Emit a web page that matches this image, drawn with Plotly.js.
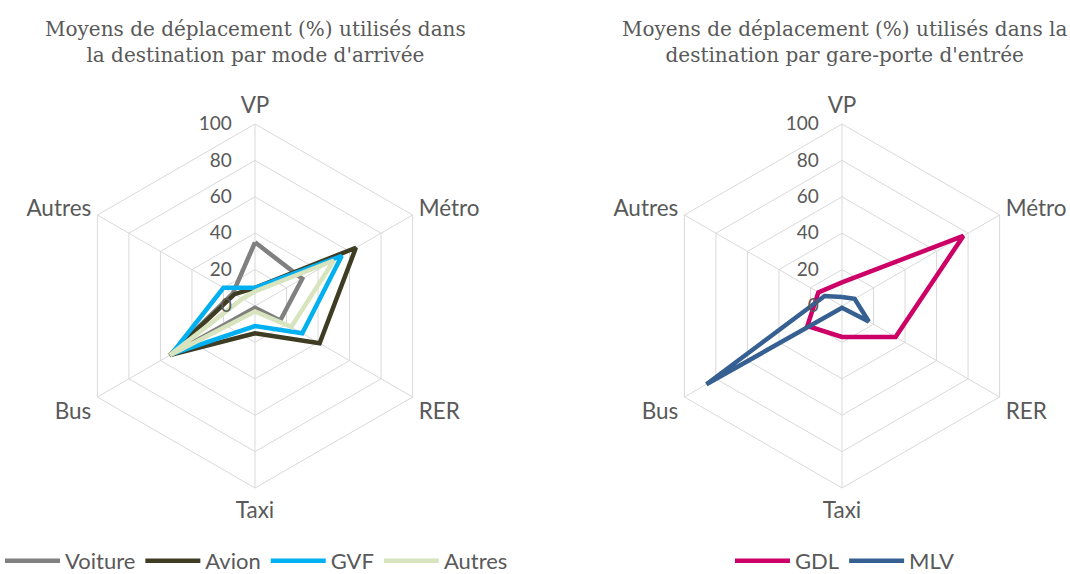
<!DOCTYPE html>
<html><head><meta charset="utf-8">
<script src="https://cdn.plot.ly/plotly-3.0.1.min.js"></script>
<style>html,body{margin:0;padding:0;background:#fff;overflow:hidden}#chart{width:1070px;height:582px}</style>
</head><body><div id="chart"></div>
<script>
const categories = ["VP", "Métro", "RER", "Taxi", "Bus", "Autres"];
const radialTicks = [0, 20, 40, 60, 80, 100];

// Left chart: mode d'arrivée
const voiture = [35, 30, 16, 1, 54, 14];
const avion   = [10, 64, 41, 15, 54, 13];
const gvf     = [10, 55, 30, 11, 53, 20];
const autres  = [8, 50, 23, 3, 54, 8];

// Right chart: gare-porte d'entrée
const gdl = [13, 77, 34, 17, 22, 15];
const mlv = [5, 8, 17, 1, 86, 11];

const leftTitle = "Moyens de déplacement (%) utilisés dans<br>la destination par mode d'arrivée";
const rightTitle = "Moyens de déplacement (%) utilisés dans la<br>destination par gare-porte d'entrée";

function closed(a){ return a.concat([a[0]]); }
const cats = closed(categories);

function tr(name, vals, color, polar, legend){
  return {type:'scatterpolar', mode:'lines', name:name, r:closed(vals), theta:cats,
    line:{color:color, width:4.5, shape:'linear'}, subplot:polar, legend:legend,
    cliponaxis:false, hoverinfo:'skip'};
}

const data = [
  tr("Voiture", voiture, "#808080", "polar", "legend"),
  tr("Avion", avion, "#3f3c24", "polar", "legend"),
  tr("GVF", gvf, "#00b0f0", "polar", "legend"),
  tr("Autres", autres, "#d7e4bd", "polar", "legend"),
  tr("GDL", gdl, "#cc0066", "polar2", "legend2"),
  tr("MLV", mlv, "#376092", "polar2", "legend2")
];

const H = 582;
const fam = "Lato, 'Open Sans', sans-serif";
const angFont = {family:fam, size:22.5, color:"#595959"};
const radFont = {family:fam, size:19, color:"#595959"};
const legFont = {family:fam, size:22, color:"#595959"};
function polarCfg(xd){
  return {
    domain:{x:xd, y:[(H-488)/H, (H-124)/H]},
    gridshape:'linear', bgcolor:'rgba(0,0,0,0)',
    radialaxis:{range:[0,100], tickvals:radialTicks, angle:90, tickangle:90,
      showline:false, ticks:'outside', ticklen:16, tickcolor:'rgba(0,0,0,0)',
      gridcolor:'#d9d9d9', gridwidth:1,
      tickfont:radFont, side:'counterclockwise'},
    angularaxis:{direction:'clockwise', rotation:90, categoryarray:categories,
      type:'category', tickfont:angFont, ticks:'outside', ticklen:2,
      tickcolor:'rgba(0,0,0,0)', showline:true,
      linecolor:'#d9d9d9', linewidth:1, gridcolor:'#d9d9d9'}
  };
}

const titleFont = {family:"'DejaVu Serif', 'Liberation Serif', serif", size:20, color:"#595959"};
const layout = {
  width:1070, height:H, margin:{l:0,r:0,t:0,b:0},
  paper_bgcolor:'#fff', plot_bgcolor:'#fff',
  polar: polarCfg([73/1070, 437/1070]),
  polar2: polarCfg([660/1070, 1024/1070]),
  legend:{orientation:'h', x:0.0, xanchor:'left', y:0, yanchor:'bottom',
    font:legFont, itemwidth:55, bgcolor:'rgba(0,0,0,0)'},
  legend2:{orientation:'h', x:730/1070, xanchor:'left', y:0, yanchor:'bottom',
    font:legFont, itemwidth:55, bgcolor:'rgba(0,0,0,0)'},
  showlegend:true,
  annotations:[
    {text:leftTitle, x:255/1070, y:1-42/H, xref:'paper', yref:'paper', showarrow:false,
      font:titleFont, align:'center', xanchor:'center', yanchor:'middle'},
    {text:rightTitle, x:844/1070, y:1-42/H, xref:'paper', yref:'paper', showarrow:false,
      font:titleFont, align:'center', xanchor:'center', yanchor:'middle'}
  ]
};

Plotly.newPlot('chart', data, layout, {displayModeBar:false, staticPlot:true});
</script></body></html>
